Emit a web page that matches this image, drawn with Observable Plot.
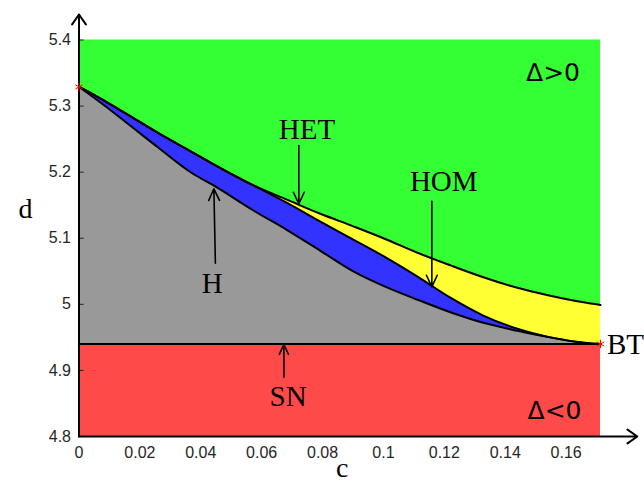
<!DOCTYPE html>
<html>
<head>
<meta charset="utf-8">
<script src="https://cdn.jsdelivr.net/npm/d3@7"></script>
<script src="https://cdn.jsdelivr.net/npm/@observablehq/plot@0.6"></script>
<style>
  html, body { margin: 0; padding: 0; background: #fff; }
  #chart { width: 644px; height: 484px; overflow: hidden; }
</style>
</head>
<body>
<div id="chart"></div>
<script>
// ---- data ----
const cMax = 0.1713;     // BT point, c
const snLevel = 4.940;   // SN line, d
const dMin = 4.8, dMax = 5.4;

// HET curve (upper boundary of yellow)
const hetC = [0, 0.0054, 0.0153, 0.0261, 0.0373, 0.0465, 0.0573, 0.0685, 0.0793, 0.0901, 0.1000, 0.1112, 0.1220, 0.1328, 0.1440, 0.1548, 0.1657, 0.1713];
const hetD = [5.329, 5.316, 5.289, 5.259, 5.230, 5.206, 5.180, 5.158, 5.137, 5.118, 5.100, 5.078, 5.059, 5.041, 5.025, 5.013, 5.003, 4.999];

// HOM curve (blue / yellow boundary)
const homC = [0, 0.0054, 0.0153, 0.0261, 0.0373, 0.0465, 0.0573, 0.0685, 0.0793, 0.0901, 0.1000, 0.1112, 0.1220, 0.1328, 0.1440, 0.1548, 0.1657, 0.1713];
const homD = [5.329, 5.316, 5.289, 5.259, 5.230, 5.206, 5.180, 5.153, 5.125, 5.098, 5.073, 5.042, 5.010, 4.983, 4.963, 4.950, 4.942, 4.940];

// H curve (gray / blue boundary)
const hC = [0, 0.0054, 0.0153, 0.0261, 0.0373, 0.0442, 0.0573, 0.0685, 0.0793, 0.0901, 0.1000, 0.1112, 0.1220, 0.1328, 0.1440, 0.1548, 0.1657, 0.1713];
const hD = [5.329, 5.311, 5.276, 5.237, 5.198, 5.180, 5.142, 5.112, 5.081, 5.050, 5.028, 5.007, 4.988, 4.972, 4.960, 4.950, 4.942, 4.940];

// special points (red stars)
const starC = [0, 0.1713];
const starD = [5.329, 4.940];

// tick values
const xTicks = [0, 0.02, 0.04, 0.06, 0.08, 0.1, 0.12, 0.14, 0.16];
const yTicks = [4.8, 4.9, 5.0, 5.1, 5.2, 5.3, 5.4];

// annotation labels
const labelText = ["HET", "HOM", "H", "SN"];
const labelC = [0.0749, 0.1198, 0.0438, 0.0687];
const labelD = [5.2505, 5.1710, 5.0164, 4.8454];

// annotation arrows (tail -> tip)
const arrowC1 = [0.0722, 0.1159, 0.0448, 0.0673];
const arrowD1 = [5.2403, 5.1559, 5.0622, 4.8897];
const arrowC2 = [0.0722, 0.1159, 0.0443, 0.0673];
const arrowD2 = [5.1521, 5.0264, 5.1748, 4.9392];

// discriminant region labels
const deltaText = ["\u0394>0", "\u0394<0"];
const deltaC = [0.1557, 0.1562];
const deltaD = [5.3377, 4.8268];

// axis arrow extents (beyond the plotted ranges)
const xAxisEnd = 0.1834;
const yAxisEnd = 5.4386;
const yTickLen = 0.0017;

// ---- build tables ----
const toRows = (C, D) => C.map((c, i) => ({c, d: D[i]}));
const het = toRows(hetC, hetD);
const hom = toRows(homC, homD);
const hcur = toRows(hC, hD);
const stars = toRows(starC, starD);
const labels = labelText.map((t, i) => ({t, c: labelC[i], d: labelD[i]}));
const arrows = arrowC1.map((c, i) => ({c1: c, d1: arrowD1[i], c2: arrowC2[i], d2: arrowD2[i]}));
const deltas = deltaText.map((t, i) => ({t, c: deltaC[i], d: deltaD[i]}));

const GREEN = "#33ff33", YELLOW = "#ffff33", BLUE = "#3333ff", GRAY = "#999999", RED = "#ff4a4a";
const SERIF = "'Liberation Serif', 'Times New Roman', serif";
const SANS = "'Liberation Sans', Arial, sans-serif";

const fmt = v => String(+v.toFixed(2));

const chart = Plot.plot({
  width: 644,
  height: 484,
  marginLeft: 78.5,
  marginRight: 44,
  marginTop: 39.5,
  marginBottom: 48,
  x: {domain: [0, cMax]},
  y: {domain: [dMin, dMax]},
  style: {fontFamily: SANS, background: "white", overflow: "visible"},
  marks: [
    // regions
    Plot.rect([{x1: 0, x2: cMax, y1: snLevel, y2: dMax}], {x1: "x1", x2: "x2", y1: "y1", y2: "y2", fill: GREEN}),
    Plot.areaY(het, {x: "c", y1: snLevel, y2: "d", fill: YELLOW, curve: "monotone-x"}),
    Plot.areaY(hom, {x: "c", y1: snLevel, y2: "d", fill: BLUE, curve: "monotone-x"}),
    Plot.areaY(hcur, {x: "c", y1: snLevel, y2: "d", fill: GRAY, curve: "monotone-x"}),
    Plot.rect([{x1: 0, x2: cMax, y1: dMin, y2: snLevel}], {x1: "x1", x2: "x2", y1: "y1", y2: "y2", fill: RED}),
    // boundary curves
    Plot.line(het, {x: "c", y: "d", stroke: "black", strokeWidth: 2, curve: "monotone-x"}),
    Plot.line(hom, {x: "c", y: "d", stroke: "black", strokeWidth: 2, curve: "monotone-x"}),
    Plot.line(hcur, {x: "c", y: "d", stroke: "black", strokeWidth: 2, curve: "monotone-x"}),
    Plot.ruleY([snLevel], {x1: 0, x2: cMax, stroke: "black", strokeWidth: 2}),
    // axes
    Plot.axisX({ticks: xTicks, tickFormat: fmt, tickSize: 0, tickPadding: 10, fontSize: 16, color: "#262626"}),
    Plot.axisY({ticks: yTicks, tickFormat: fmt, tickSize: 0, tickPadding: 8, fontSize: 16, color: "#262626"}),
    Plot.ruleY(yTicks, {y: d => d, x1: 0, x2: yTickLen, stroke: "#262626", strokeWidth: 1}),
    Plot.arrow([{x1: 0, y1: dMin, x2: xAxisEnd, y2: dMin}], {x1: "x1", y1: "y1", x2: "x2", y2: "y2", stroke: "black", strokeWidth: 2, headLength: 9, headAngle: 70}),
    Plot.arrow([{x1: 0, y1: dMin, x2: 0, y2: yAxisEnd}], {x1: "x1", y1: "y1", x2: "x2", y2: "y2", stroke: "black", strokeWidth: 2, headLength: 9, headAngle: 70}),
    // annotation arrows
    Plot.arrow(arrows, {x1: "c1", y1: "d1", x2: "c2", y2: "d2", stroke: "black", strokeWidth: 1.6, headLength: 12, headAngle: 50}),
    // red stars
    Plot.dot(stars, {x: "c", y: "d", symbol: "asterisk", r: 4, stroke: "red", strokeWidth: 1}),
    // labels
    Plot.text(labels, {x: "c", y: "d", text: "t", fontFamily: SERIF, fontSize: 29, lineAnchor: "bottom", fill: "black"}),
    Plot.text([stars[1]], {x: "c", y: "d", text: () => "BT", fontFamily: SERIF, fontSize: 29, textAnchor: "start", lineAnchor: "bottom", dx: 6.5, dy: 10, fill: "black"}),
    Plot.text(deltas, {x: "c", y: "d", text: "t", fontFamily: "'DejaVu Sans', sans-serif", fontSize: 25, lineAnchor: "bottom", fill: "black"}),
    Plot.text(["d"], {frameAnchor: "left", y: () => 5.1309, text: d => d, fontFamily: SERIF, fontSize: 28, lineAnchor: "bottom", dx: -60.5, fill: "black"}),
    Plot.text(["c"], {frameAnchor: "bottom", x: () => 0.0865, text: d => d, fontFamily: SERIF, fontSize: 28, lineAnchor: "bottom", dy: 40, fill: "black"})
  ]
});
document.getElementById("chart").appendChild(chart);
</script>
</body>
</html>
